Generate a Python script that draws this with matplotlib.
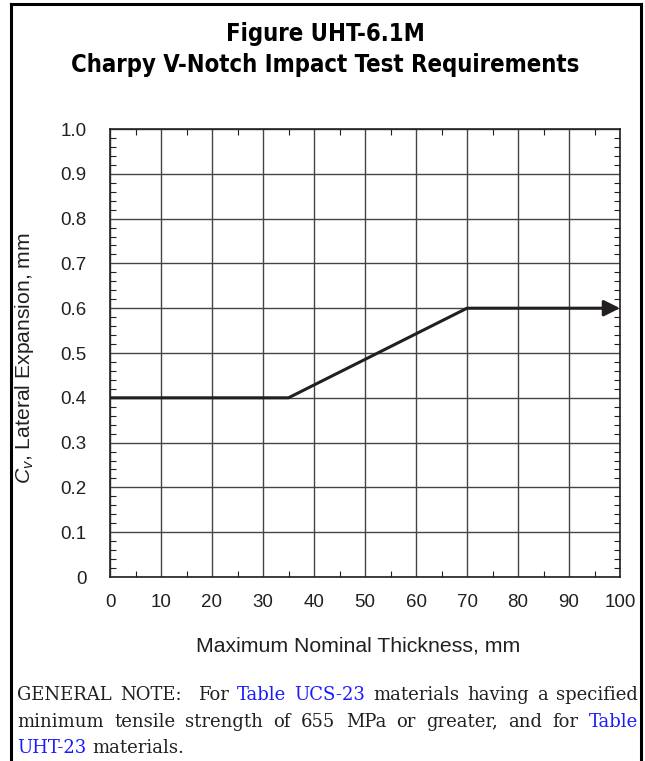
import numpy as np
import matplotlib
matplotlib.use('Agg')
import matplotlib.pyplot as plt
from matplotlib.lines import Line2D
from matplotlib.ticker import MultipleLocator, FuncFormatter
from matplotlib import font_manager as fm

plt.rcParams.update({
    'font.family': ['Liberation Sans', 'DejaVu Sans'],
    'mathtext.fontset': 'custom',
    'mathtext.it': 'Liberation Sans:italic',
    'mathtext.rm': 'Liberation Sans',
})

# data
thickness = [0, 35, 70, 100]
lateral_exp = [0.4, 0.4, 0.6, 0.6]
x_ticks = list(range(0, 101, 10))
y_ticks = [0, 0.1, 0.2, 0.3, 0.4, 0.5, 0.6, 0.7, 0.8, 0.9, 1.0]

title_lines = ['Figure UHT-6.1M', 'Charpy V-Notch Impact Test Requirements']
xlabel = 'Maximum Nominal Thickness, mm'
ylabel = r'$C_v$, Lateral Expansion, mm'

blue = '#1a1aff'
ink = '#231f20'
note_lines = [
    [('GENERAL', ink), ('NOTE:', ink), (None, None), ('For', ink), ('Table', blue), ('UCS-23', blue),
     ('materials', ink), ('having', ink), ('a', ink), ('specified', ink)],
    [('minimum', ink), ('tensile', ink), ('strength', ink), ('of', ink), ('655', ink), ('MPa', ink),
     ('or', ink), ('greater,', ink), ('and', ink), ('for', ink), ('Table', blue)],
    [('UHT-23', blue), ('materials.', ink)],
]

# pick a narrow bold face for the title if one is installed
avail = {(f.name, f.stretch) for f in fm.fontManager.ttflist}
if any(n == 'Liberation Sans Narrow' for n, _ in avail):
    title_font = dict(family='Liberation Sans Narrow')
elif any(n == 'DejaVu Sans' and s in ('condensed', 'semi-condensed') for n, s in avail):
    title_font = dict(family='DejaVu Sans', fontstretch='condensed')
else:
    title_font = dict(family='Roboto')

W, H = 645, 761
fig = plt.figure(figsize=(W / 100, H / 100), dpi=100)
renderer = fig.canvas.get_renderer()

def fx(px):
    return px / W

def fy(py):
    return 1 - py / H

ax = fig.add_axes([fx(110), fy(577), fx(620) - fx(110), fy(129) - fy(577)])

ax.plot(thickness[:3], lateral_exp[:3], color=ink, lw=2.2, solid_capstyle='butt', zorder=5)
ax.annotate('', xy=(thickness[3], lateral_exp[3]), xytext=(thickness[2], lateral_exp[2]),
            arrowprops=dict(arrowstyle='-|>', color=ink, lw=2.2, mutation_scale=24,
                            shrinkA=0, shrinkB=0), zorder=6)

ax.set_xlim(0, 100)
ax.set_ylim(0, 1.0)
ax.set_xticks(x_ticks)
ax.set_yticks(y_ticks)
ax.xaxis.set_minor_locator(MultipleLocator(5))
ax.yaxis.set_minor_locator(MultipleLocator(0.02))
ax.yaxis.set_major_formatter(FuncFormatter(lambda v, _: '0' if v == 0 else f'{v:.1f}'))
ax.grid(which='major', color='#444444', lw=1.0)
ax.tick_params(which='both', direction='in', top=True, right=True, color=ink)
ax.tick_params(which='major', length=0, labelsize=13.5, labelcolor=ink)
ax.tick_params(axis='y', which='major', pad=17)
ax.tick_params(axis='x', which='major', pad=12)
ax.tick_params(which='minor', length=4, width=0.8)
for s in ax.spines.values():
    s.set_color(ink)
    s.set_linewidth(1.2)

# title, sized so the long line spans about 510 px
t2 = fig.text(fx(325), fy(65), title_lines[1], ha='center', va='center', fontsize=18,
              fontweight='bold', color='black', **title_font)
w2 = t2.get_window_extent(renderer).width
tsize = 18 * 510 / w2
t2.set_fontsize(tsize)
fig.text(fx(325), fy(34), title_lines[0], ha='center', va='center', fontsize=tsize,
         fontweight='bold', color='black', **title_font)

fig.text(fx(358), fy(646), xlabel, ha='center', va='center', fontsize=15.3, color=ink)
fig.text(fx(25), fy(358), ylabel, ha='center', va='center', rotation=90, fontsize=15.2, color=ink)

# border around the figure box
for xs, ys in [([11, 11], [4, H]), ([11, 641], [4, 4]), ([641, 641], [4, H])]:
    fig.add_artist(Line2D([fx(x) for x in xs], [fy(y) for y in ys], color='black', lw=2.2,
                          transform=fig.transFigure, solid_capstyle='projecting'))

# justified note text
note_kw = dict(fontsize=13, family='DejaVu Serif', va='baseline', ha='left')

def width(s):
    t = fig.text(0, 0, s, **note_kw)
    w = t.get_window_extent(renderer).width
    t.remove()
    return w

space = width('a a') - width('aa')
x_left, x_right = 17, 638
baselines = [700, 727, 753]
for i, line in enumerate(note_lines):
    words = [w for w in line if w[0] is not None]
    widths = [width(w[0]) for w in words]
    extra = sum(1 for w in line if w[0] is None)
    n_gaps = len(words) - 1
    if i < len(note_lines) - 1:
        gap = (x_right - x_left - sum(widths)) / (n_gaps + extra)
    else:
        gap = space
    x = x_left
    k = 0
    for tok in line:
        if tok[0] is None:
            x += gap
            continue
        fig.text(fx(x), fy(baselines[i]), tok[0], color=tok[1], **note_kw)
        x += widths[k] + gap
        k += 1

fig.savefig('out.png', dpi=100)
